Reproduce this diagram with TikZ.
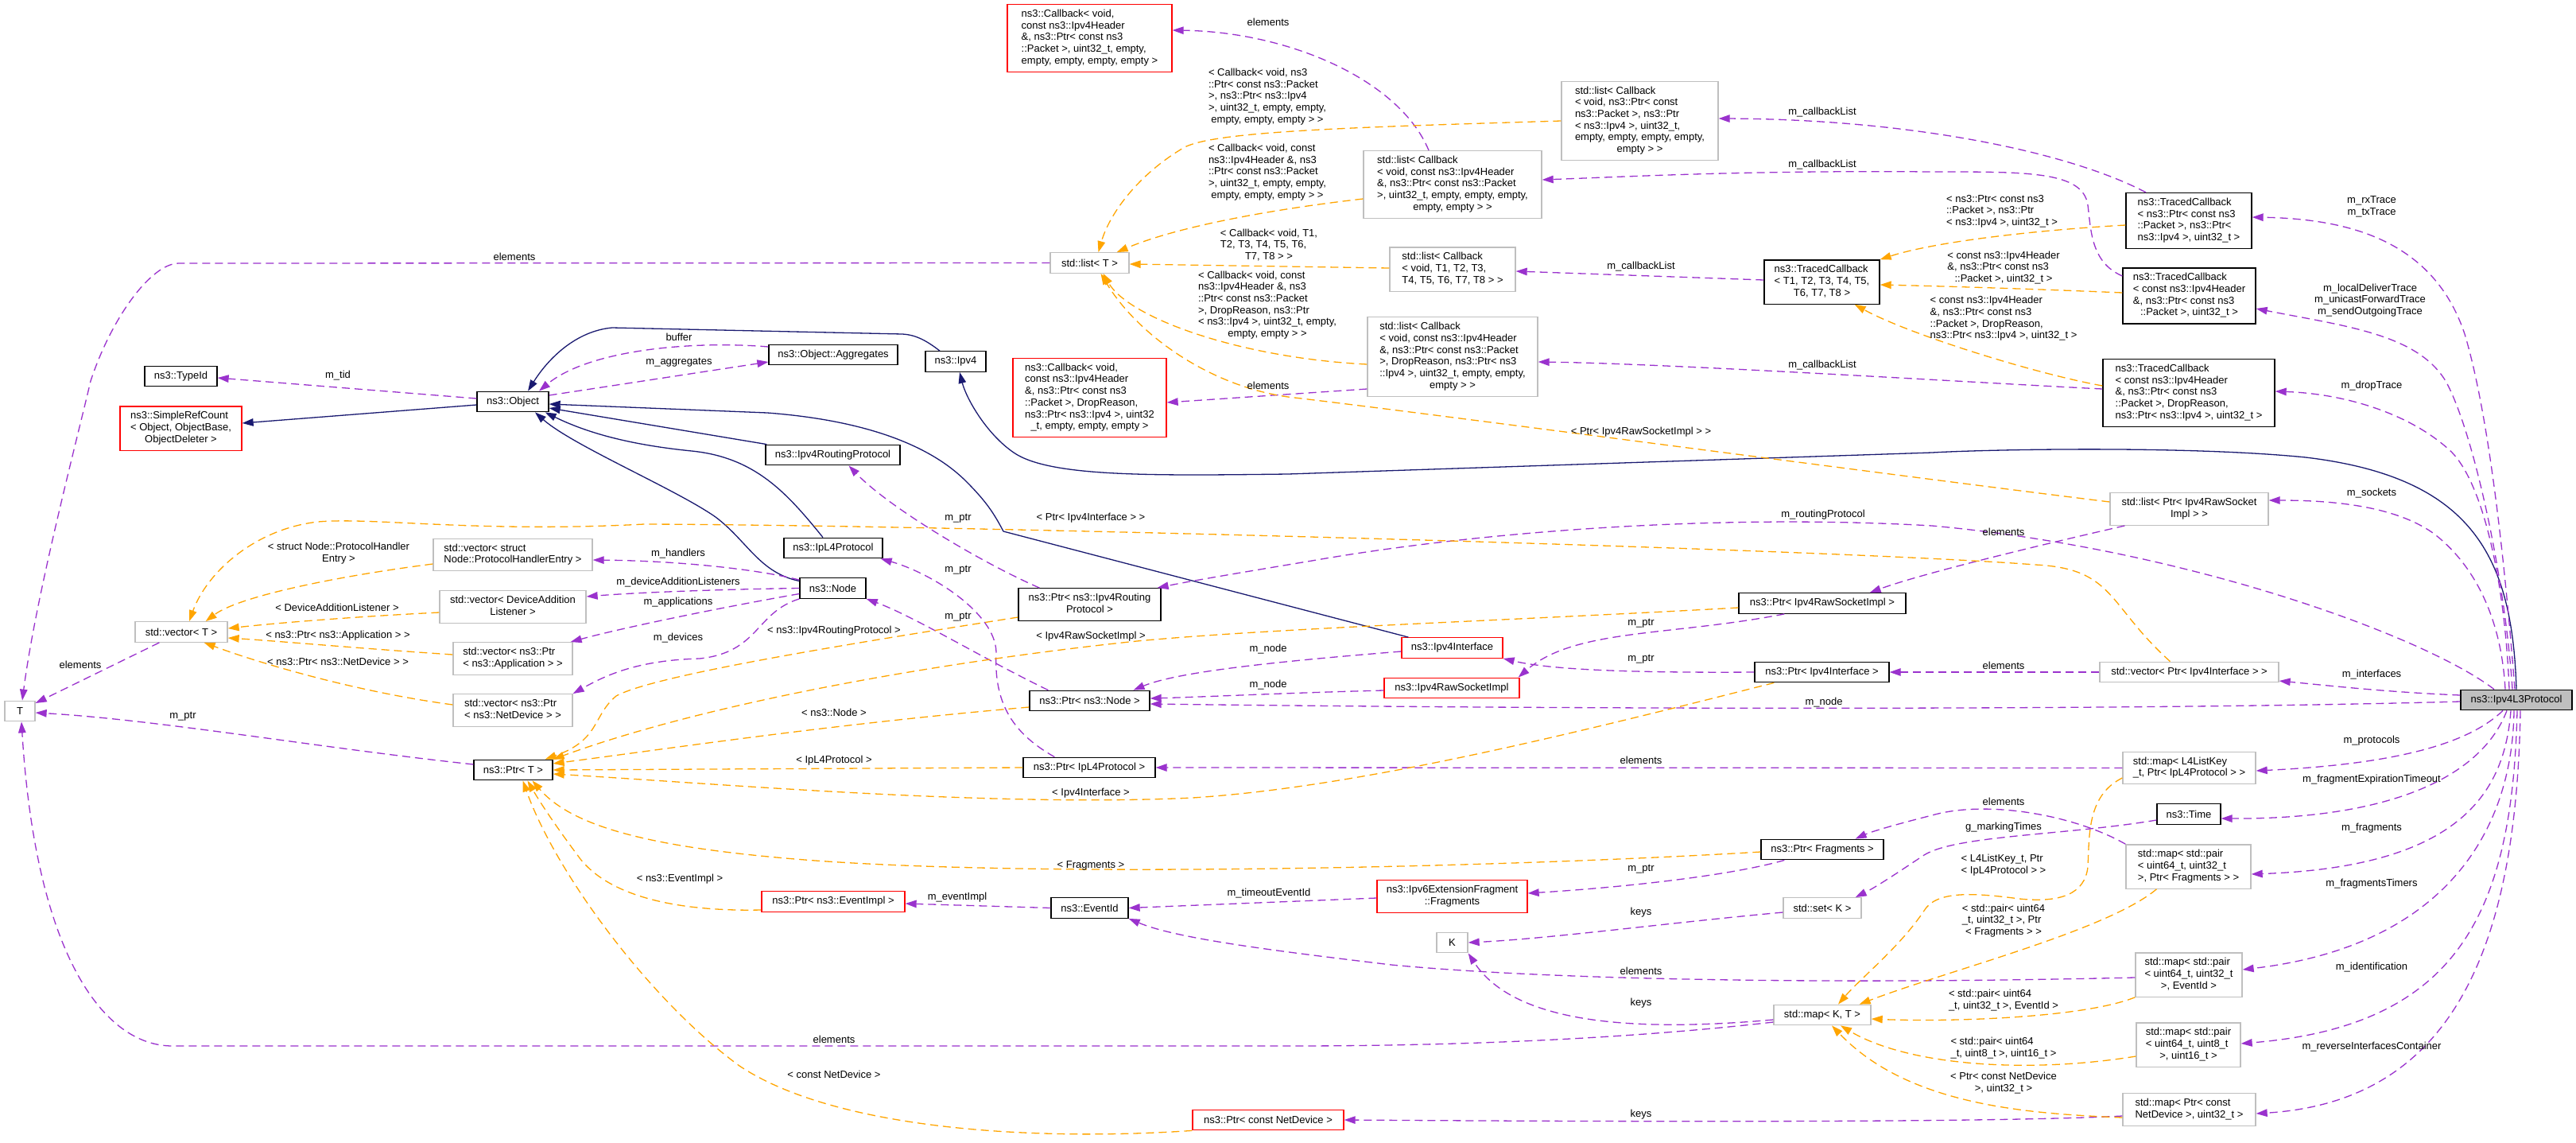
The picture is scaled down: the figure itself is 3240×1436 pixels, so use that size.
\documentclass[tikz,border=0pt]{standalone}
\usepackage{fontspec}
\setmainfont{Liberation Sans}
\usetikzlibrary{arrows.meta}
\definecolor{edgep}{HTML}{9A32CD}
\definecolor{edgeo}{HTML}{FFA500}
\definecolor{inhb}{HTML}{191970}
\definecolor{gbord}{HTML}{BFBFBF}
\definecolor{mfill}{HTML}{BFBFBF}
\newcommand{\dxf}{\fontsize{13}{14.7}\selectfont}
\newcommand{\ML}[2]{\begin{tabular}{@{}l@{}}#1\\\multicolumn{1}{@{}c@{}}{#2}\end{tabular}}
\newcommand{\CL}[1]{\begin{tabular}{@{}c@{}}#1\end{tabular}}
\tikzset{
  nb/.style={draw=black, fill=white, line width=1.3pt, inner xsep=3pt, inner ysep=5.6pt, minimum height=25.5pt, font=\dxf},
  gb/.style={nb, draw=gbord},
  rb/.style={nb, draw=red},
  mb/.style={nb, fill=mfill},
  lb/.style={inner sep=0pt, font=\dxf},
  pe/.style={color=edgep, line width=1.3pt, dash pattern=on 10pt off 6pt, -{Triangle[length=14pt,width=9.5pt]}},
  oe/.style={pe, color=edgeo},
  ie/.style={color=inhb, line width=1.3pt, -{Triangle[length=14pt,width=9.5pt]}}
}
\begin{document}
\begin{tikzpicture}[x=1pt,y=-1pt]
\useasboundingbox (0,0) rectangle (3240,1436);
\fill[white] (0,0) rectangle (3240,1436);

% ---------- nodes ----------
\node[rb,minimum width=207pt] (cbA) at (1370.5,48) {\ML{ns3::Callback< void,\\const ns3::Ipv4Header\\\&, ns3::Ptr< const ns3\\::Packet >, uint32\_t, empty,}{empty, empty, empty, empty >}};
\node[gb,minimum width=197pt] (lstA) at (2062.5,152) {\ML{std::list< Callback\\< void, ns3::Ptr< const\\ns3::Packet >, ns3::Ptr\\< ns3::Ipv4 >, uint32\_t,\\empty, empty, empty, empty,}{empty > >}};
\node[gb,minimum width=224pt] (lstB) at (1827,232) {\ML{std::list< Callback\\< void, const ns3::Ipv4Header\\\&, ns3::Ptr< const ns3::Packet\\>, uint32\_t, empty, empty, empty,}{empty, empty > >}};
\node[gb,minimum width=99pt] (lstT) at (1370.5,330.5) {std::list< T >};
\node[gb,minimum width=158pt] (lstG) at (1827,338.5) {\ML{std::list< Callback\\< void, T1, T2, T3,}{T4, T5, T6, T7, T8 > >}};
\node[nb,minimum width=145pt] (tcG) at (2291.5,354.5) {\ML{ns3::TracedCallback\\< T1, T2, T3, T4, T5,}{T6, T7, T8 >}};
\node[gb,minimum width=214pt] (lstD) at (1827,448.5) {\ML{std::list< Callback\\< void, const ns3::Ipv4Header\\\&, ns3::Ptr< const ns3::Packet\\>, DropReason, ns3::Ptr< ns3\\::Ipv4 >, uint32\_t, empty, empty,}{empty > >}};
\node[rb,minimum width=193pt] (cbD) at (1370.5,500) {\ML{ns3::Callback< void,\\const ns3::Ipv4Header\\\&, ns3::Ptr< const ns3\\::Packet >, DropReason,\\ns3::Ptr< ns3::Ipv4 >, uint32}{\_t, empty, empty, empty >}};
\node[nb,minimum width=158pt] (tc1) at (2753,277.5) {\ML{ns3::TracedCallback\\< ns3::Ptr< const ns3\\::Packet >, ns3::Ptr<}{ns3::Ipv4 >, uint32\_t >}};
\node[nb,minimum width=167pt] (tc2) at (2753.5,372) {\ML{ns3::TracedCallback\\< const ns3::Ipv4Header\\\&, ns3::Ptr< const ns3}{::Packet >, uint32\_t >}};
\node[nb,minimum width=216pt] (tc3) at (2753,494) {\ML{ns3::TracedCallback\\< const ns3::Ipv4Header\\\&, ns3::Ptr< const ns3\\::Packet >, DropReason,}{ns3::Ptr< ns3::Ipv4 >, uint32\_t >}};
\node[nb,minimum width=91pt] (typeid) at (227.5,473) {ns3::TypeId};
\node[nb,minimum width=90pt] (object) at (645,505) {ns3::Object};
\node[nb,minimum width=162pt] (aggr) at (1048,446) {ns3::Object::Aggregates};
\node[nb,minimum width=76pt] (ipv4) at (1202,454.5) {ns3::Ipv4};
\node[rb,minimum width=153pt] (srefc) at (227.5,538.5) {\ML{ns3::SimpleRefCount\\< Object, ObjectBase,}{ObjectDeleter >}};
\node[nb,minimum width=169pt] (rp) at (1047.5,572) {ns3::Ipv4RoutingProtocol};
\node[nb,minimum width=124pt] (l4) at (1048,689) {ns3::IpL4Protocol};
\node[nb,minimum width=83pt] (node) at (1047.5,739.5) {ns3::Node};
\node[gb,minimum width=200pt] (vPHE) at (645,697.5) {\ML{std::vector< struct}{Node::ProtocolHandlerEntry >}};
\node[gb,minimum width=184pt] (vDAL) at (645,763) {\ML{std::vector< DeviceAddition}{Listener >}};
\node[gb,minimum width=150pt] (vApp) at (645,828) {\ML{std::vector< ns3::Ptr}{< ns3::Application > >}};
\node[gb,minimum width=150pt] (vND) at (645,893) {\ML{std::vector< ns3::Ptr}{< ns3::NetDevice > >}};
\node[gb,minimum width=116pt] (vecT) at (228,794.5) {std::vector< T >};
\node[gb,minimum width=38pt] (T) at (25,894) {T};
\node[nb,minimum width=99pt] (ptrT) at (645.5,968) {ns3::Ptr< T >};
\node[nb,minimum width=179pt] (ptrRP) at (1370.5,760) {\ML{ns3::Ptr< ns3::Ipv4Routing}{Protocol >}};
\node[nb,minimum width=151pt] (ptrNode) at (1370.5,881) {ns3::Ptr< ns3::Node >};
\node[nb,minimum width=166pt] (ptrL4) at (1370,965) {ns3::Ptr< IpL4Protocol >};
\node[rb,minimum width=127pt] (ipv4if) at (1826.5,814.5) {ns3::Ipv4Interface};
\node[rb,minimum width=170pt] (rsi) at (1826,865) {ns3::Ipv4RawSocketImpl};
\node[nb,minimum width=210pt] (ptrRSI) at (2292,758.5) {ns3::Ptr< Ipv4RawSocketImpl >};
\node[nb,minimum width=169pt] (ptrIf) at (2291.5,845) {ns3::Ptr< Ipv4Interface >};
\node[gb,minimum width=199pt] (lstRSI) at (2753.5,640) {\ML{std::list< Ptr< Ipv4RawSocket}{Impl > >}};
\node[gb,minimum width=225pt] (vecIf) at (2753.5,845) {std::vector< Ptr< Ipv4Interface > >};
\node[mb,minimum width=140pt] (main) at (3165,880) {ns3::Ipv4L3Protocol};
\node[gb,minimum width=167pt] (mapL4) at (2753.5,965.5) {\ML{std::map< L4ListKey}{\_t, Ptr< IpL4Protocol > >}};
\node[nb,minimum width=80pt] (time) at (2753,1023.5) {ns3::Time};
\node[gb,minimum width=157pt] (mapFrag) at (2752.5,1089.5) {\ML{std::map< std::pair\\< uint64\_t, uint32\_t}{>, Ptr< Fragments > >}};
\node[gb,minimum width=134pt] (mapEv) at (2753,1225.5) {\ML{std::map< std::pair\\< uint64\_t, uint32\_t}{>, EventId >}};
\node[gb,minimum width=131pt] (mapId) at (2752.5,1313.5) {\ML{std::map< std::pair\\< uint64\_t, uint8\_t}{>, uint16\_t >}};
\node[gb,minimum width=167pt] (mapND) at (2753.5,1395) {\ML{std::map< Ptr< const}{NetDevice >, uint32\_t >}};
\node[nb,minimum width=154pt] (ptrFrag) at (2292,1068) {ns3::Ptr< Fragments >};
\node[rb,minimum width=189pt] (frag) at (1826.5,1127) {\ML{ns3::Ipv6ExtensionFragment}{::Fragments}};
\node[gb,minimum width=98pt] (setK) at (2292,1141.5) {std::set< K >};
\node[gb,minimum width=39pt] (K) at (1826.5,1185) {K};
\node[gb,minimum width=122pt] (mapKT) at (2292,1276) {std::map< K, T >};
\node[rb,minimum width=180pt] (ptrEv) at (1048,1133.5) {ns3::Ptr< ns3::EventImpl >};
\node[nb,minimum width=97pt] (evId) at (1370.5,1141.5) {ns3::EventId};
\node[rb,minimum width=190pt] (ptrCND) at (1595,1408) {ns3::Ptr< const NetDevice >};

% ---------- inheritance ----------
\draw[ie] ([yshift=-4pt]object.west) -- ([yshift=6.5pt]srefc.east);
\draw[ie] ([xshift=-20pt]ipv4.north) .. controls (1165,428) and (1152,421) .. (1135,420) -- (770,412) .. controls (725,416) and (690,450) .. ([xshift=19pt]object.north);
\draw[ie] ([xshift=2pt]rp.north west) -- ([yshift=-8pt]object.east);
\draw[ie] ([xshift=-13pt]l4.north) .. controls (990,620) and (950,575) .. (870,567) .. controls (780,558) and (730,540) .. ([xshift=-5pt]object.south east);
\draw[ie] ([yshift=9pt]node.west) .. controls (955,720) and (940,680) .. (900,650) .. controls (850,615) and (720,560) .. ([xshift=28pt]object.south);
\draw[ie] ([xshift=9pt]ipv4if.north west) -- (1262,668) .. controls (1250,645) and (1240,630) .. (1215,605) .. controls (1180,570) and (1110,530) .. (965,519) -- ([yshift=-3pt]object.east);
\draw[ie] (main.north) .. controls (3160,700) and (3110,600) .. (2900,575) .. controls (2750,560) and (2500,565) .. (2430,569) -- (1620,596) .. controls (1450,598) and (1320,600) .. (1275,569) .. controls (1240,545) and (1215,500) .. ([xshift=5pt]ipv4.south);

% ---------- usage (purple) ----------
\draw[pe] ([xshift=-30pt]lstB.north) .. controls (1760,100) and (1620,40) .. ([yshift=10pt]cbA.east);
\draw[pe] ([yshift=4pt]object.west) -- ([yshift=-2pt]typeid.east);
\draw[pe] ([yshift=8pt]object.east) -- ([yshift=-9pt]aggr.west);
\draw[pe] ([yshift=10pt]aggr.west) .. controls (870,428) and (740,440) .. ([xshift=33pt]object.north);
\draw[pe] ([yshift=-40.5pt]lstD.west) -- ([yshift=-6pt]cbD.east);
\draw[pe] ([xshift=-54pt]tc1.north) .. controls (2600,190) and (2400,150) .. ([yshift=3pt]lstA.east);
\draw[pe] ([yshift=25pt]tc2.west) .. controls (2630,330) and (2630,290) .. (2626,258) .. controls (2620,215) and (2550,216) .. (2430,216) .. controls (2200,214) and (2050,222) .. ([yshift=6pt]lstB.east);
\draw[pe] ([yshift=2.5pt]tcG.west) -- ([yshift=-2.5pt]lstG.east);
\draw[pe] ([yshift=5pt]tc3.west) .. controls (2500,482) and (2100,457) .. ([yshift=-6.5pt]lstD.east);
\draw[pe] ([xshift=-2pt]main.north) .. controls (3150,700) and (3130,520) .. (3100,420) .. controls (3060,300) and (2950,275) .. ([yshift=4.5pt]tc1.east);
\draw[pe] ([xshift=-5pt]main.north) .. controls (3150,720) and (3110,540) .. (3076,479) .. controls (3040,420) and (2950,410) .. ([yshift=-16pt]tc2.east);
\draw[pe] ([xshift=-9pt]main.north) .. controls (3150,720) and (3120,600) .. (3080,565) .. controls (3030,520) and (2950,495) .. ([yshift=2pt]tc3.east);
\draw[pe] ([xshift=-14pt]main.north) .. controls (3145,760) and (3100,700) .. (3060,670) .. controls (3010,635) and (2930,629) .. ([yshift=11pt]lstRSI.east);
\draw[pe] ([xshift=-28pt]main.north) .. controls (3050,800) and (2750,690) .. (2430,661) .. controls (2150,645) and (1850,670) .. (1650,705) .. controls (1560,720) and (1500,730) .. ([xshift=-5pt]ptrRP.north east);
\draw[pe] ([yshift=6pt]main.west) .. controls (3000,870) and (2930,862) .. ([yshift=-11pt]vecIf.east);
\draw[pe] ([yshift=-2pt]main.west) .. controls (2700,893) and (2000,892) .. ([yshift=-4pt]ptrNode.east);
\draw[pe] ([xshift=-17pt]main.south) .. controls (3110,930) and (3030,960) .. ([yshift=-3.5pt]mapL4.east);
\draw[pe] ([xshift=-12pt]main.south) .. controls (3120,980) and (3000,1030) .. ([yshift=-5.5pt]time.east);
\draw[pe] ([xshift=-7pt]main.south) .. controls (3150,1000) and (3090,1090) .. ([yshift=-9.5pt]mapFrag.east);
\draw[pe] ([xshift=-3pt]main.south) .. controls (3160,1050) and (3070,1190) .. ([yshift=6.5pt]mapEv.east);
\draw[pe] ([xshift=1pt]main.south) .. controls (3160,1150) and (3090,1290) .. ([yshift=1.5pt]mapId.east);
\draw[pe] ([xshift=5pt]main.south) .. controls (3165,1200) and (3080,1385) .. ([yshift=-5pt]mapND.east);
\draw[pe] ([xshift=19pt]lstRSI.south west) .. controls (2580,682) and (2420,720) .. ([xshift=-46pt]ptrRSI.north east);
\draw[pe] (vecIf.west) -- (ptrIf.east);
\draw[pe] (mapL4.west) -- (ptrL4.east);
\draw[pe] ([xshift=58pt]ptrRSI.south west) .. controls (2100,800) and (1980,790) .. ([xshift=-2pt]rsi.north east);
\draw[pe] (ptrIf.west) .. controls (2050,846) and (1950,842) .. (ipv4if.south east);
\draw[pe] ([yshift=-4.5pt]ipv4if.west) .. controls (1600,832) and (1480,845) .. ([xshift=55pt]ptrNode.north);
\draw[pe] ([yshift=-3pt]rsi.west) .. controls (1620,871) and (1520,876) .. ([yshift=3pt]ptrNode.east);
\draw[pe] ([xshift=27pt]ptrRP.north west) .. controls (1240,710) and (1120,640) .. ([xshift=20pt]rp.south);
\draw[pe] ([xshift=40pt]ptrL4.north west) .. controls (1270,920) and (1250,880) .. (1253,820) .. controls (1252,770) and (1170,720) .. ([xshift=-3pt]l4.south east);
\draw[pe] ([xshift=24pt]ptrNode.north west) .. controls (1240,830) and (1150,775) .. (node.south east);
\draw[pe] ([yshift=-3pt]node.north west) .. controls (950,715) and (850,705) .. ([yshift=-6.5pt]vPHE.east);
\draw[pe] (node.west) .. controls (900,741) and (800,745) .. ([yshift=13pt]vDAL.east);
\draw[pe] ([yshift=-7pt]node.west) .. controls (900,765) and (780,790) .. ([xshift=-3pt]vApp.north east);
\draw[pe] (node.south west) .. controls (950,770) and (955,820) .. (880,828) .. controls (800,830) and (760,850) .. (vND.north east);
\draw[pe] ([xshift=31pt]vecT.south west) -- ([yshift=10pt]T.east);
\draw[pe] ([yshift=7pt]ptrT.west) .. controls (400,940) and (200,905) .. ([yshift=-2pt]T.east);
\draw[pe] (lstT.west) -- (225,331) .. controls (190,331) and (140,400) .. (114,479) .. controls (95,560) and (45,750) .. ([xshift=3pt]T.north);
\draw[pe] ([yshift=-9pt]mapKT.west) .. controls (2100,1300) and (1900,1315) .. (1620,1315) -- (217,1315) .. controls (130,1315) and (45,1200) .. ([xshift=2pt]T.south);
\draw[pe] ([yshift=-5.5pt]setK.west) .. controls (2100,1160) and (1950,1180) .. (K.east);
\draw[pe] ([yshift=-6pt]mapKT.west) .. controls (2030,1300) and (1900,1280) .. (K.south east);
\draw[pe] ([xshift=30pt]ptrFrag.south west) .. controls (2180,1100) and (2050,1115) .. ([yshift=4pt]frag.east);
\draw[pe] ([yshift=-7.5pt]time.west) .. controls (2600,1050) and (2460,1050) .. (2420,1075) .. controls (2390,1095) and (2360,1115) .. ([xshift=-8pt]setK.north east);
\draw[pe] (mapFrag.north west) .. controls (2610,1025) and (2500,1005) .. (2430,1025) .. controls (2390,1035) and (2355,1045) .. ([xshift=-36pt]ptrFrag.north east);
\draw[pe] ([yshift=-3.5pt]mapEv.west) .. controls (2300,1238) and (1950,1232) .. (1750,1213) .. controls (1600,1195) and (1480,1180) .. (evId.south east);
\draw[pe] ([yshift=-2pt]frag.west) -- (evId.east);
\draw[pe] (evId.west) -- ([yshift=-2.5pt]ptrEv.east);
\draw[pe] ([yshift=-8pt]mapND.west) .. controls (2500,1412) and (2000,1410) .. (ptrCND.east);

% ---------- template instances (orange) ----------
\draw[oe] (lstA.west) .. controls (1700,160) and (1530,165) .. (1490,185) .. controls (1430,220) and (1395,270) .. ([xshift=11pt]lstT.north);
\draw[oe] ([yshift=-18pt]lstB.west) .. controls (1600,263) and (1480,285) .. ([xshift=-16pt]lstT.north east);
\draw[oe] ([yshift=1.5pt]lstG.west) -- ([yshift=-1.5pt]lstT.east);
\draw[oe] ([yshift=-9.5pt]lstD.west) .. controls (1560,450) and (1420,400) .. ([xshift=17pt]lstT.south);
\draw[oe] ([yshift=9pt]lstRSI.west) .. controls (2400,600) and (1800,520) .. (1620,499) .. controls (1520,485) and (1430,420) .. ([xshift=14pt]lstT.south);
\draw[oe] ([xshift=-24pt]vecIf.north) .. controls (2650,760) and (2660,715) .. (2560,710) .. controls (2300,690) and (1200,660) .. (810,659) .. controls (600,670) and (470,650) .. (400,656) .. controls (320,665) and (260,720) .. ([xshift=10pt]vecT.north);
\draw[oe] ([yshift=-11.5pt]vPHE.west) .. controls (420,725) and (300,750) .. ([xshift=-28pt]vecT.north east);
\draw[oe] ([yshift=-7pt]vDAL.west) .. controls (450,775) and (350,783) .. ([yshift=4.5pt]vecT.east);
\draw[oe] ([yshift=5pt]vApp.west) .. controls (450,815) and (350,806) .. ([yshift=-7.5pt]vecT.east);
\draw[oe] ([yshift=7pt]vND.west) .. controls (450,870) and (330,835) .. ([xshift=-30pt]vecT.south east);
\draw[oe] ([yshift=-5.5pt]tc1.west) .. controls (2550,290) and (2430,305) .. (tcG.north east);
\draw[oe] ([yshift=4pt]tc2.west) .. controls (2550,363) and (2450,360) .. ([yshift=-3.5pt]tcG.east);
\draw[oe] ([yshift=9pt]tc3.west) .. controls (2560,470) and (2400,420) .. ([xshift=-32pt]tcG.south east);
\draw[oe] ([yshift=-16pt]ptrRP.west) .. controls (1050,812) and (820,850) .. (775,875) .. controls (745,900) and (755,930) .. ([xshift=-10pt]ptrT.north east);
\draw[oe] ([yshift=-5.5pt]ptrRSI.west) .. controls (1900,780) and (1600,790) .. (1430,806) .. controls (1200,830) and (900,880) .. (ptrT.north east);
\draw[oe] ([yshift=-8pt]ptrNode.west) .. controls (1050,910) and (850,940) .. ([yshift=8pt]ptrT.east);
\draw[oe] (ptrL4.west) -- (ptrT.east);
\draw[oe] ([xshift=25pt]ptrIf.south west) .. controls (1950,930) and (1700,990) .. (1500,1003) .. controls (1250,1015) and (900,985) .. ([yshift=-5pt]ptrT.east);
\draw[oe] ([yshift=-3pt]ptrFrag.west) .. controls (1900,1090) and (1300,1105) .. (1000,1080) .. controls (820,1065) and (720,1040) .. ([xshift=24pt]ptrT.south);
\draw[oe] ([yshift=-10.5pt]ptrEv.west) .. controls (860,1146) and (770,1130) .. (730,1080) .. controls (700,1040) and (680,1010) .. ([xshift=18pt]ptrT.south);
\draw[oe] (ptrCND.south west) .. controls (1300,1435) and (1050,1420) .. (930,1340) .. controls (820,1260) and (700,1100) .. ([xshift=12pt]ptrT.south);
\draw[oe] ([yshift=-12.5pt]mapL4.west) .. controls (2625,1000) and (2628,1050) .. (2626,1090) .. controls (2622,1125) and (2590,1135) .. (2540,1130) .. controls (2480,1122) and (2435,1120) .. (2420,1145) .. controls (2390,1190) and (2340,1230) .. ([xshift=20pt]mapKT.north);
\draw[oe] ([xshift=-40pt]mapFrag.south) .. controls (2650,1170) and (2450,1220) .. ([xshift=-15pt]mapKT.north east);
\draw[oe] (mapEv.south west) .. controls (2620,1280) and (2450,1285) .. ([yshift=-5pt]mapKT.east);
\draw[oe] ([yshift=-14.5pt]mapId.west) .. controls (2550,1350) and (2400,1340) .. ([xshift=23pt]mapKT.south);
\draw[oe] ([yshift=-10pt]mapND.west) .. controls (2550,1400) and (2400,1390) .. ([xshift=12pt]mapKT.south);

% ---------- labels ----------
\node[lb] (l01) at (1595,28) {elements};
\node[lb] (l02) at (425,472) {m\_tid};
\node[lb] (l03) at (854,456) {m\_aggregates};
\node[lb] (l04) at (854,424) {buffer};
\node[lb] (l05) at (647,323) {elements};
\node[lb] (l06) at (1595,485) {elements};
\node[lb] (l07) at (2292,141) {m\_callbackList};
\node[lb] (l08) at (2292,207) {m\_callbackList};
\node[lb] (l09) at (2064,335) {m\_callbackList};
\node[lb] (l10) at (2292,459) {m\_callbackList};
\node[lb] (l11) at (2983,260) {\CL{m\_rxTrace\\m\_txTrace}};
\node[lb] (l12) at (2981,378) {\CL{m\_localDeliverTrace\\m\_unicastForwardTrace\\m\_sendOutgoingTrace}};
\node[lb] (l13) at (2983,485) {m\_dropTrace};
\node[lb] (l14) at (2983,620) {m\_sockets};
\node[lb] (l15) at (2520,669) {elements};
\node[lb] (l16) at (2293,647) {m\_routingProtocol};
\node[lb] (l17) at (2983,848) {m\_interfaces};
\node[lb] (l18) at (2520,837) {elements};
\node[lb] (l19) at (2294,883) {m\_node};
\node[lb] (l20) at (2064,784) {m\_ptr};
\node[lb] (l21) at (2064,829) {m\_ptr};
\node[lb] (l22) at (1595,816) {m\_node};
\node[lb] (l23) at (1595,861) {m\_node};
\node[lb] (l24) at (1205,652) {m\_ptr};
\node[lb] (l25) at (1205,717) {m\_ptr};
\node[lb] (l26) at (1205,776) {m\_ptr};
\node[lb] (l27) at (853,696) {m\_handlers};
\node[lb] (l28) at (853,732) {m\_deviceAdditionListeners};
\node[lb] (l29) at (853,757) {m\_applications};
\node[lb] (l30) at (853,802) {m\_devices};
\node[lb] (l31) at (101,836) {elements};
\node[lb] (l32) at (230,901) {m\_ptr};
\node[lb] (l33) at (2983,931) {m\_protocols};
\node[lb] (l34) at (2064,956) {elements};
\node[lb] (l35) at (2983,980) {m\_fragmentExpirationTimeout};
\node[lb] (l36) at (2520,1008) {elements};
\node[lb] (l37) at (2520,1040) {g\_markingTimes};
\node[lb] (l38) at (2983,1041) {m\_fragments};
\node[lb] (l39) at (2064,1093) {m\_ptr};
\node[lb] (l40) at (2983,1111) {m\_fragmentsTimers};
\node[lb] (l41) at (1596,1123) {m\_timeoutEventId};
\node[lb] (l42) at (1204,1128) {m\_eventImpl};
\node[lb] (l43) at (2064,1147) {keys};
\node[lb] (l44) at (2983,1216) {m\_identification};
\node[lb] (l45) at (2064,1221) {elements};
\node[lb] (l46) at (2064,1261) {keys};
\node[lb] (l47) at (1049,1307) {elements};
\node[lb] (l48) at (2983,1316) {m\_reverseInterfacesContainer};
\node[lb] (l49) at (2064,1401) {keys};

\node[lb] (o01) at (1594,122) {\ML{< Callback< void, ns3\\::Ptr< const ns3::Packet\\>, ns3::Ptr< ns3::Ipv4\\>, uint32\_t, empty, empty,}{empty, empty, empty > >}};
\node[lb] (o02) at (1594,217) {\ML{< Callback< void, const\\ns3::Ipv4Header \&, ns3\\::Ptr< const ns3::Packet\\>, uint32\_t, empty, empty,}{empty, empty, empty > >}};
\node[lb] (o03) at (1596,309) {\ML{< Callback< void, T1,\\T2, T3, T4, T5, T6,}{T7, T8 > >}};
\node[lb] (o04) at (1594,384) {\ML{< Callback< void, const\\ns3::Ipv4Header \&, ns3\\::Ptr< const ns3::Packet\\>, DropReason, ns3::Ptr\\< ns3::Ipv4 >, uint32\_t, empty,}{empty, empty > >}};
\node[lb] (o05) at (2064,543) {< Ptr< Ipv4RawSocketImpl > >};
\node[lb] (o06) at (1372,651) {< Ptr< Ipv4Interface > >};
\node[lb] (o07) at (426,696) {\ML{< struct Node::ProtocolHandler}{Entry >}};
\node[lb] (o08) at (424,764) {< DeviceAdditionListener >};
\node[lb] (o09) at (425,799) {< ns3::Ptr< ns3::Application > >};
\node[lb] (o10) at (425,832) {< ns3::Ptr< ns3::NetDevice > >};
\node[lb] (o11) at (2518,266) {\ML{< ns3::Ptr< const ns3\\::Packet >, ns3::Ptr}{< ns3::Ipv4 >, uint32\_t >}};
\node[lb] (o12) at (2520,337) {\ML{< const ns3::Ipv4Header\\\&, ns3::Ptr< const ns3}{::Packet >, uint32\_t >}};
\node[lb] (o13) at (2520,401) {\ML{< const ns3::Ipv4Header\\\&, ns3::Ptr< const ns3\\::Packet >, DropReason,}{ns3::Ptr< ns3::Ipv4 >, uint32\_t >}};
\node[lb] (o14) at (1049,793) {< ns3::Ipv4RoutingProtocol >};
\node[lb] (o15) at (1372,800) {< Ipv4RawSocketImpl >};
\node[lb] (o16) at (1049,896) {< ns3::Node >};
\node[lb] (o17) at (1049,956) {< IpL4Protocol >};
\node[lb] (o18) at (1372,997) {< Ipv4Interface >};
\node[lb] (o19) at (1372,1088) {< Fragments >};
\node[lb] (o20) at (855,1105) {< ns3::EventImpl >};
\node[lb] (o21) at (1049,1351) {< const NetDevice >};
\node[lb] (o22) at (2520,1088) {\ML{< L4ListKey\_t, Ptr}{< IpL4Protocol > >}};
\node[lb] (o23) at (2520,1158) {\ML{< std::pair< uint64\\\_t, uint32\_t >, Ptr}{< Fragments > >}};
\node[lb] (o24) at (2520,1258) {\ML{< std::pair< uint64}{\_t, uint32\_t >, EventId >}};
\node[lb] (o25) at (2520,1318) {\ML{< std::pair< uint64}{\_t, uint8\_t >, uint16\_t >}};
\node[lb] (o26) at (2520,1362) {\ML{< Ptr< const NetDevice}{>, uint32\_t >}};
\end{tikzpicture}
\end{document}
